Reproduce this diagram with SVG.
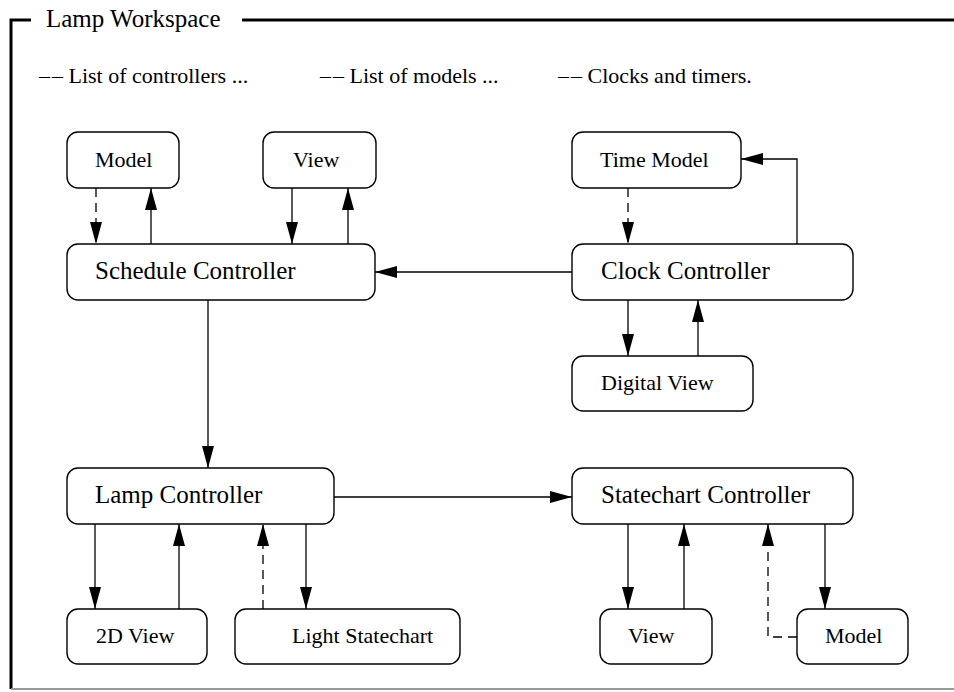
<svg xmlns="http://www.w3.org/2000/svg" width="954" height="692" viewBox="0 0 954 692" font-family="'Liberation Serif', 'Times New Roman', 'DejaVu Serif', serif">
<style>
.box{fill:#fff;stroke:#000;stroke-width:1.4}
.ln{fill:none;stroke:#000;stroke-width:1.3}
.dash{stroke-dasharray:9,6}
text{font-family:'Liberation Serif','Times New Roman','DejaVu Serif',serif;fill:#000}
.big{font-size:25px}
.sm{font-size:22px}
</style>
<defs>
<marker id="ah" viewBox="0 0 22 12" refX="22" refY="6" markerWidth="22" markerHeight="12" markerUnits="userSpaceOnUse" orient="auto">
<path d="M0,0 L22,6 L0,12 Z" fill="#000" stroke="none"/>
</marker>
</defs>
<rect width="954" height="692" fill="#fff"/>
<g id="frame">
<path d="M31,20 H11 V689" fill="none" stroke="#000" stroke-width="3"/>
<line x1="242" y1="20" x2="954" y2="20" stroke="#000" stroke-width="3"/>
<line x1="11" y1="689" x2="954" y2="689" stroke="#999" stroke-width="2"/>
<text class="big" x="46" y="27">Lamp Workspace</text>
<text class="sm" x="39" y="83">–<tspan dx="2">–</tspan> List of controllers ...</text>
<text class="sm" x="320" y="83">–<tspan dx="2">–</tspan> List of models ...</text>
<text class="sm" x="558" y="83">–<tspan dx="2">–</tspan> Clocks and timers.</text>
</g>
<g id="connectors">
<line class="ln dash" x1="96" y1="188" x2="96" y2="244" marker-end="url(#ah)"/>
<line class="ln" x1="151" y1="244" x2="151" y2="188" marker-end="url(#ah)"/>
<line class="ln" x1="292" y1="188" x2="292" y2="244" marker-end="url(#ah)"/>
<line class="ln" x1="348" y1="244" x2="348" y2="188" marker-end="url(#ah)"/>
<line class="ln" x1="572" y1="272" x2="375" y2="272" marker-end="url(#ah)"/>
<path class="ln" d="M797,244 V159 H741" marker-end="url(#ah)"/>
<line class="ln dash" x1="628" y1="188" x2="628" y2="244" marker-end="url(#ah)"/>
<line class="ln" x1="628" y1="300" x2="628" y2="356" marker-end="url(#ah)"/>
<line class="ln" x1="698" y1="356" x2="698" y2="300" marker-end="url(#ah)"/>
<line class="ln" x1="208" y1="300" x2="208" y2="468" marker-end="url(#ah)"/>
<line class="ln" x1="334" y1="497" x2="572" y2="497" marker-end="url(#ah)"/>
<line class="ln" x1="95" y1="524" x2="95" y2="609" marker-end="url(#ah)"/>
<line class="ln" x1="179" y1="609" x2="179" y2="524" marker-end="url(#ah)"/>
<line class="ln dash" x1="263" y1="609" x2="263" y2="524" marker-end="url(#ah)"/>
<line class="ln" x1="306" y1="524" x2="306" y2="609" marker-end="url(#ah)"/>
<line class="ln" x1="628" y1="524" x2="628" y2="609" marker-end="url(#ah)"/>
<line class="ln" x1="684" y1="609" x2="684" y2="524" marker-end="url(#ah)"/>
<path class="ln dash" d="M797,637 H768 V524" marker-end="url(#ah)"/>
<line class="ln" x1="825" y1="524" x2="825" y2="609" marker-end="url(#ah)"/>
</g>
<g id="model1"><rect class="box" x="67" y="132" width="112" height="56" rx="11"/><text class="sm" x="95" y="167">Model</text></g>
<g id="view1"><rect class="box" x="263" y="132" width="113" height="56" rx="11"/><text class="sm" x="293" y="167">View</text></g>
<g id="schedule"><rect class="box" x="67" y="244" width="308" height="56" rx="11"/><text class="big" x="95" y="279">Schedule Controller</text></g>
<g id="timemodel"><rect class="box" x="572" y="132" width="169" height="56" rx="11"/><text class="sm" x="600" y="167">Time Model</text></g>
<g id="clock"><rect class="box" x="572" y="244" width="281" height="56" rx="11"/><text class="big" x="601" y="279">Clock Controller</text></g>
<g id="digital"><rect class="box" x="572" y="356" width="181" height="55" rx="11"/><text class="sm" x="601" y="390">Digital View</text></g>
<g id="lamp"><rect class="box" x="67" y="468" width="267" height="56" rx="11"/><text class="big" x="95" y="503">Lamp Controller</text></g>
<g id="statechart"><rect class="box" x="572" y="468" width="281" height="56" rx="11"/><text class="big" x="601" y="503">Statechart Controller</text></g>
<g id="view2d"><rect class="box" x="67" y="609" width="140" height="55" rx="11"/><text class="sm" x="96" y="643">2D View</text></g>
<g id="light"><rect class="box" x="235" y="609" width="225" height="55" rx="11"/><text class="sm" x="292" y="643">Light Statechart</text></g>
<g id="view3"><rect class="box" x="600" y="609" width="112" height="55" rx="11"/><text class="sm" x="628" y="643">View</text></g>
<g id="model3"><rect class="box" x="797" y="609" width="111" height="55" rx="11"/><text class="sm" x="825" y="643">Model</text></g>
</svg>
